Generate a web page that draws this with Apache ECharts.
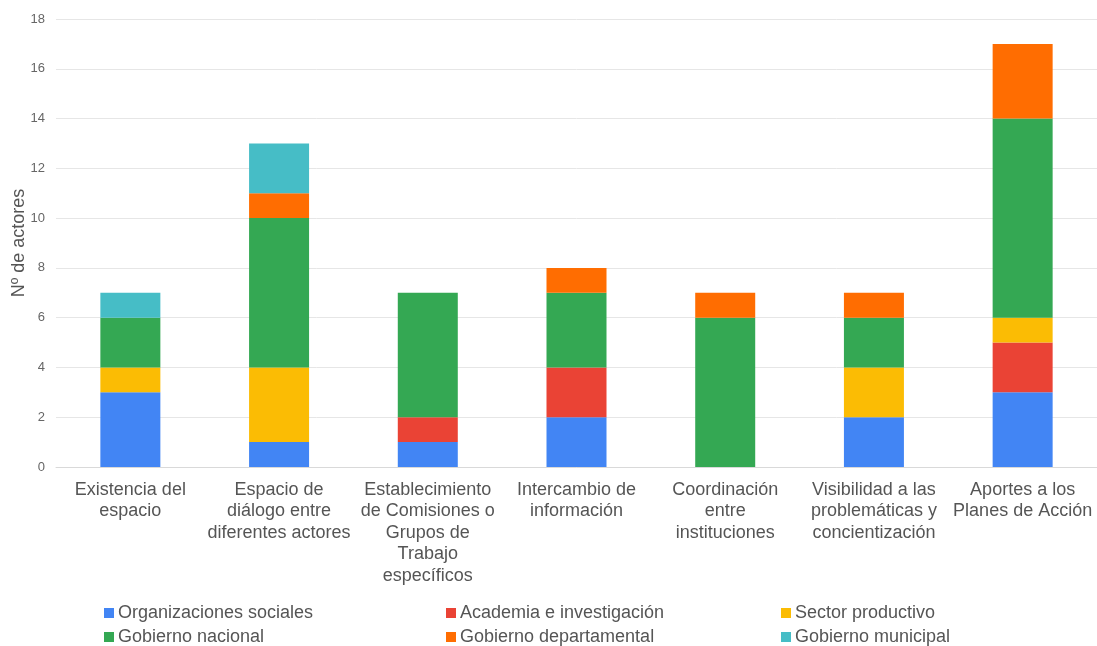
<!DOCTYPE html>
<html>
<head>
<meta charset="utf-8">
<script src="https://cdn.jsdelivr.net/npm/echarts@6/dist/echarts.min.js"></script>
<style>html,body{margin:0;padding:0;background:#fff;}#c{width:1097px;height:646px;}</style>
</head>
<body>
<div id="c"></div>
<script>
const categories = [
  "Existencia del\nespacio",
  "Espacio de\ndiálogo entre\ndiferentes actores",
  "Establecimiento\nde Comisiones o\nGrupos de\nTrabajo\nespecíficos",
  "Intercambio de\ninformación",
  "Coordinación\nentre\ninstituciones",
  "Visibilidad a las\nproblemáticas y\nconcientización",
  "Aportes a los\nPlanes de Acción"
];
const seriesNames = ["Organizaciones sociales","Academia e investigación","Sector productivo","Gobierno nacional","Gobierno departamental","Gobierno municipal"];
const organizaciones = [3,1,1,2,0,2,3];
const academia       = [0,0,1,2,0,0,2];
const sector         = [1,3,0,0,0,2,1];
const nacional       = [2,6,5,3,6,2,8];
const departamental  = [0,1,0,1,1,1,3];
const municipal      = [1,2,0,0,0,0,0];
const yTicks = [0,2,4,6,8,10,12,14,16,18];
const colors = ["#4285F4","#EA4335","#FBBC04","#34A853","#FF6D01","#46BDC6"];
const values = [organizaciones, academia, sector, nacional, departamental, municipal];
const FONT = "'Liberation Sans', Arial, sans-serif";

const chart = echarts.init(document.getElementById('c'));
const legendBase = {
  orient: 'vertical', top: 604, padding: 0, itemWidth: 10, itemHeight: 10, itemGap: 6,
  icon: 'rect',
  textStyle: {fontSize: 18, color: '#555', fontFamily: FONT, lineHeight: 18, padding: [0,0,0,-1]}
};
chart.setOption({
  animation: false,
  color: colors,
  textStyle: {fontFamily: FONT},
  grid: {left: 56, right: 0, top: 19, bottom: 179, containLabel: false, outerBoundsMode: 'none'},
  legend: [
    Object.assign({}, legendBase, {left: 104, data: [seriesNames[0], seriesNames[3]]}),
    Object.assign({}, legendBase, {left: 446, data: [seriesNames[1], seriesNames[4]]}),
    Object.assign({}, legendBase, {left: 781, data: [seriesNames[2], seriesNames[5]]})
  ],
  xAxis: {
    type: 'category', data: categories,
    axisLine: {show: true, lineStyle: {color: '#d9d9d9'}},
    axisTick: {show: false},
    axisLabel: {interval: 0, fontSize: 18, color: '#555', lineHeight: 21.5, margin: 12, fontFamily: FONT}
  },
  yAxis: {
    type: 'value', min: yTicks[0], max: yTicks[yTicks.length-1], interval: 2,
    name: 'Nº de actores', nameLocation: 'middle', nameGap: 28, nameMoveOverlap: false,
    nameTextStyle: {fontSize: 18, color: '#555', fontFamily: FONT},
    axisLine: {show: false}, axisTick: {show: false},
    axisLabel: {fontSize: 13, color: '#666', margin: 11, fontFamily: FONT},
    splitLine: {lineStyle: {color: '#e6e6e6'}}
  },
  series: seriesNames.map((n, i) => ({
    name: n, type: 'bar', stack: 'total', barWidth: 60,
    data: values[i].map(v => v === 0 ? null : v),
    itemStyle: {color: colors[i]}
  }))
});
</script>
</body>
</html>
